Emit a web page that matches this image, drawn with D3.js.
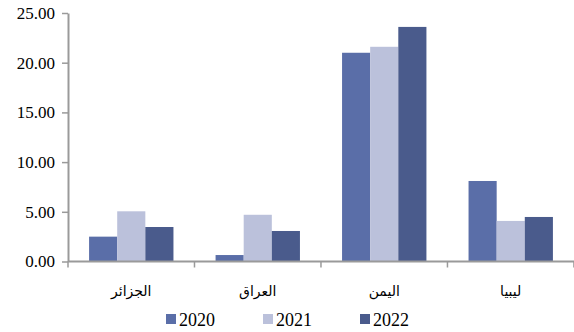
<!DOCTYPE html>
<html>
<head>
<meta charset="utf-8">
<script src="https://cdn.jsdelivr.net/npm/d3@7/dist/d3.min.js"></script>
<style>
  html, body { margin: 0; padding: 0; background: #fff; }
  svg { display: block; }
</style>
</head>
<body>
<svg id="chart" width="574" height="332"></svg>
<script>
// Countries on the category axis
const categories = ["الجزائر", "العراق", "اليمن", "ليبيا"];
// Years shown as grouped bars
const years = ["2020", "2021", "2022"];
// Values per year, in category order
const values2020 = [2.5, 0.65, 21.0, 8.1];
const values2021 = [5.05, 4.7, 21.6, 4.08];
const values2022 = [3.47, 3.07, 23.6, 4.48];
const yTicks = [0, 5, 10, 15, 20, 25];

const seriesValues = [values2020, values2021, values2022];
const colors = ["#5a6ea8", "#bbc1db", "#4a5b8c"];

(function () {
  const svg = d3.select("#chart");
  const plotLeft = 68, plotRight = 574, plotTop = 13, plotBottom = 261.5;

  const x0 = d3.scaleBand().domain(categories).range([plotLeft, plotRight])
    .paddingInner(0.333).paddingOuter(0.1667);
  const x1 = d3.scaleBand().domain(years).range([0, x0.bandwidth()]);
  const y = d3.scaleLinear().domain([0, 25]).range([plotBottom, plotTop]);
  const color = d3.scaleOrdinal().domain(years).range(colors);

  const rows = categories.map((c, i) => ({
    cat: c,
    vals: years.map((yr, j) => ({ year: yr, v: seriesValues[j][i] }))
  }));

  // Bars
  svg.append("g").selectAll("g").data(rows).join("g")
    .attr("transform", d => `translate(${x0(d.cat)},0)`)
    .selectAll("rect").data(d => d.vals).join("rect")
    .attr("x", d => x1(d.year))
    .attr("y", d => y(d.v))
    .attr("width", x1.bandwidth())
    .attr("height", d => y(0) - y(d.v))
    .attr("fill", d => color(d.year));

  // Y axis
  const yAxis = svg.append("g")
    .attr("transform", `translate(${plotLeft},0)`)
    .call(d3.axisLeft(y).tickValues(yTicks).tickFormat(d3.format(".2f"))
      .tickSize(6).tickPadding(7).tickSizeOuter(0));
  yAxis.select(".domain").attr("stroke", "#9a9a9a").attr("stroke-width", 2);
  yAxis.selectAll(".tick line").attr("stroke", "#9a9a9a").attr("stroke-width", 1.5);
  yAxis.selectAll(".tick text")
    .attr("font-family", "'Liberation Serif', 'Times New Roman', serif")
    .attr("font-size", 17).attr("fill", "#000");

  // X axis with ticks between categories
  const xAxis = svg.append("g").attr("transform", `translate(0,${plotBottom})`);
  xAxis.append("line").attr("x1", plotLeft).attr("x2", plotRight)
    .attr("stroke", "#9a9a9a").attr("stroke-width", 2);
  const step = x0.step();
  const boundaries = d3.range(categories.length + 1).map(i => plotLeft + i * step);
  xAxis.selectAll("line.tk").data(boundaries).join("line").attr("class", "tk")
    .attr("x1", d => d).attr("x2", d => d).attr("y1", 0).attr("y2", 6)
    .attr("stroke", "#9a9a9a").attr("stroke-width", 1.5);
  xAxis.selectAll("text").data(categories).join("text")
    .attr("x", d => x0(d) + x0.bandwidth() / 2)
    .attr("y", 34)
    .attr("text-anchor", "middle")
    .attr("font-family", "'DejaVu Sans', 'Noto Sans', sans-serif")
    .attr("font-size", 14)
    .attr("fill", "#000")
    .text(d => d);

  // Legend
  const legendX = [166, 263, 360];
  const legend = svg.append("g").selectAll("g").data(years).join("g")
    .attr("transform", (d, i) => `translate(${legendX[i]},314)`);
  legend.append("rect").attr("width", 10).attr("height", 10)
    .attr("fill", d => color(d));
  legend.append("text").attr("x", 13).attr("y", 12)
    .attr("font-family", "'Liberation Serif', 'Times New Roman', serif")
    .attr("font-size", 18).attr("fill", "#000")
    .text(d => d);
})();
</script>
</body>
</html>
